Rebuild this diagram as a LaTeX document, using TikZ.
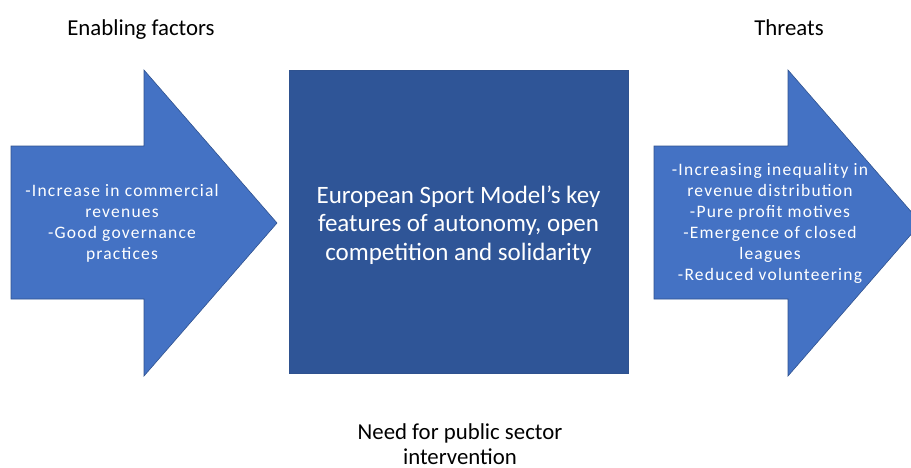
\documentclass[tikz,border=0pt]{standalone}
\usepackage{fontspec}
\setmainfont{Carlito}
\newfontfamily\spacedfont[LetterSpace=7]{Carlito}
\usepackage{xcolor}
\usepackage{tikz}
\usetikzlibrary{positioning}
\definecolor{arrowblue}{HTML}{4472C4}
\definecolor{boxblue}{HTML}{2F5597}
\definecolor{edgeblue}{HTML}{2F528F}

\begin{document}
\begin{tikzpicture}[x=1pt, y=-1pt,
    bigarrow/.style={draw=edgeblue, line width=0.6pt, fill=arrowblue},
    keybox/.style={rectangle, draw=edgeblue, line width=0.6pt, fill=boxblue, minimum width=339pt, minimum height=303pt, inner sep=0pt},
    boxtext/.style={text=white, align=center, inner sep=0pt, font=\fontsize{25}{28.5}\selectfont},
    arrowtext/.style={text=white, align=center, inner sep=0pt, font=\spacedfont\fontsize{17.5}{21}\selectfont},
    heading/.style={text=black, align=center, inner sep=0pt, anchor=base, font=\fontsize{22.8}{25}\selectfont}
]
\useasboundingbox (0,0) rectangle (911,467);
\clip (0,0) rectangle (911,467);

% Left arrow: enabling factors
\draw[bigarrow] (11,146) -- (144,146) -- (144,70) -- (277,223) -- (144,376) -- (144,299) -- (11,299) -- cycle;
\node[arrowtext] (enabling) at (122,223) {-Increase in commercial\\revenues\\-Good governance\\practices};
\node[heading] (enablingtitle) at (141,35) {Enabling factors};

% Centre box
\node[keybox] (model) at (458.5,221.5) {};
\node[boxtext] (modeltext) at (458.5,225) {European Sport Model’s key\\features of autonomy, open\\competition and solidarity};

% Right arrow: threats
\draw[bigarrow] (654,146) -- (788,146) -- (788,70) -- (921,223) -- (788,376) -- (788,299) -- (654,299) -- cycle;
\node[arrowtext] (threats) at (770,223) {-Increasing inequality in\\revenue distribution\\-Pure profit motives\\-Emergence of closed\\leagues\\-Reduced volunteering};
\node[heading] (threatstitle) at (789,35) {Threats};

% Bottom note
\node[heading] (need) at (460,464) {Need for public sector\\intervention};

\end{tikzpicture}
\end{document}
